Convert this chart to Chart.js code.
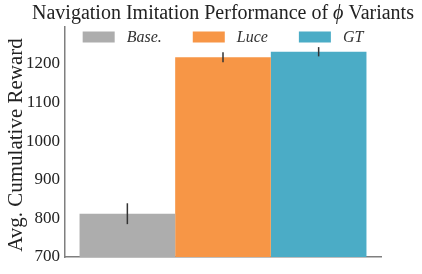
<!DOCTYPE html>
<html><head><meta charset="utf-8">
<script src="https://cdn.jsdelivr.net/npm/chart.js@4.4.1/dist/chart.umd.min.js"></script>
<style>html,body{margin:0;padding:0;background:#fff}#wrap{width:422px;height:274px}</style>
</head><body><div id="wrap"><canvas id="c" width="422" height="274"></canvas></div>
<script>
const titleParts = ['Navigation Imitation Performance of ', '\u03D5', ' Variants'];
const yTitle = 'Avg. Cumulative Reward';
const categories = [''];
const seriesNames = ['Base.', 'Luce', 'GT'];
const seriesValues = [812, 1217, 1231];
const seriesErrors = [27, 13, 12];
const seriesColors = ['#adadad', '#f79646', '#4bacc6'];
const yTicks = [700, 800, 900, 1000, 1100, 1200];
const SERIF = "'Liberation Serif', 'DejaVu Serif', serif";

const datasets = seriesNames.map((n, i) => ({
  label: n,
  data: [seriesValues[i]],
  err: [seriesErrors[i]],
  backgroundColor: seriesColors[i],
  borderWidth: 0,
  barPercentage: 1.0,
  categoryPercentage: 0.908
}));

const errPlugin = {
  id: 'errbars',
  afterDatasetsDraw(chart) {
    const ctx = chart.ctx, y = chart.scales.y;
    chart.data.datasets.forEach((ds, i) => {
      const meta = chart.getDatasetMeta(i);
      meta.data.forEach((bar, j) => {
        const v = ds.data[j], e = ds.err[j];
        ctx.save();
        ctx.strokeStyle = '#333';
        ctx.lineWidth = 1.5;
        ctx.beginPath();
        ctx.moveTo(bar.x, y.getPixelForValue(v - e));
        ctx.lineTo(bar.x, y.getPixelForValue(v + e));
        ctx.stroke();
        ctx.restore();
      });
    });
  }
};

const legendPlugin = {
  id: 'inlegend',
  afterDraw(chart) {
    const ctx = chart.ctx, a = chart.chartArea;
    const bw = 32, bh = 11, gapT = 12, gapItem = 31;
    ctx.save();
    ctx.font = 'italic 16px ' + SERIF;
    const widths = chart.data.datasets.map(d => bw + gapT + ctx.measureText(d.label).width);
    const total = widths.reduce((s, w) => s + w, 0) + gapItem * (widths.length - 1);
    let x = (a.left + a.right) / 2 - total / 2;
    const yc = a.top + 10;
    chart.data.datasets.forEach((d, i) => {
      ctx.fillStyle = d.backgroundColor;
      ctx.fillRect(x, yc - bh / 2, bw, bh);
      ctx.fillStyle = '#333';
      ctx.textBaseline = 'middle';
      ctx.textAlign = 'left';
      ctx.fillText(d.label, x + bw + gapT, yc + 1);
      x += widths[i] + gapItem;
    });
    ctx.restore();
  }
};

const titlesPlugin = {
  id: 'titles',
  afterDraw(chart) {
    const ctx = chart.ctx, a = chart.chartArea;
    ctx.save();
    ctx.fillStyle = '#222';
    const fonts = ['20px ' + SERIF, 'italic 20px ' + SERIF, '20px ' + SERIF];
    const ws = titleParts.map((t, i) => { ctx.font = fonts[i]; return ctx.measureText(t).width; });
    let x = (a.left + a.right) / 2 - ws.reduce((s, w) => s + w, 0) / 2;
    ctx.textBaseline = 'alphabetic';
    ctx.textAlign = 'left';
    titleParts.forEach((t, i) => { ctx.font = fonts[i]; ctx.fillText(t, x, 19); x += ws[i]; });
    ctx.translate(16, (a.top + a.bottom) / 2 + 3);
    ctx.rotate(-Math.PI / 2);
    ctx.font = '21px ' + SERIF;
    ctx.textAlign = 'center';
    ctx.textBaseline = 'middle';
    ctx.fillText(yTitle, 0, 0);
    ctx.restore();
  }
};

new Chart(document.getElementById('c'), {
  type: 'bar',
  data: { labels: categories, datasets },
  plugins: [errPlugin, legendPlugin, titlesPlugin],
  options: {
    responsive: false,
    animation: false,
    layout: { padding: { top: 27, right: 41, bottom: 17, left: 4 } },
    plugins: {
      legend: { display: false },
      tooltip: { enabled: false },
      title: { display: false }
    },
    scales: {
      x: {
        grid: { display: false, drawTicks: false },
        ticks: { display: false },
        border: { display: true, color: '#7f7f7f', width: 1.5 },
        afterFit(s) { s.height = 0; }
      },
      y: {
        min: 700, max: 1295,
        grid: { display: false, drawTicks: false },
        border: { display: true, color: '#7f7f7f', width: 1.5 },
        ticks: { stepSize: 100, padding: 5, color: '#222', font: { family: SERIF, size: 17 },
          callback: v => String(v) },
        afterBuildTicks(s) { s.ticks = yTicks.map(v => ({ value: v })); },
        afterFit(s) { s.width = 61; }
      }
    }
  }
});
</script></body></html>
